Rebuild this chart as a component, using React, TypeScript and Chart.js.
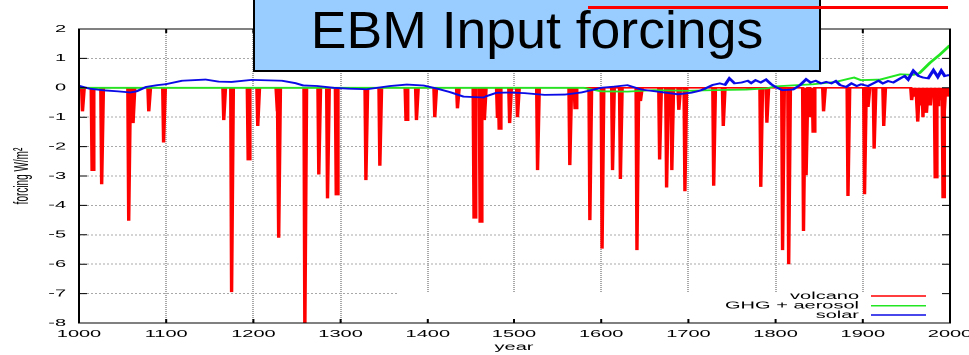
import React, { useEffect, useRef } from "react";
import { Chart, registerables } from "chart.js";

Chart.register(...registerables);

// ---------------- data ----------------
const xTicks = [1000, 1100, 1200, 1300, 1400, 1500, 1600, 1700, 1800, 1900, 2000];
const yTicks = [-8, -7, -6, -5, -4, -3, -2, -1, 0, 1, 2];
const seriesNames = ["volcano", "GHG + aerosol", "solar"];
const chartTitle = "EBM Input forcings";
const xTitle = "year";
const yTitle = "forcing W/m²";

// volcanic events: year and peak forcing (W/m2)
const volcanoYears = [
  1004, 1015, 1026, 1057, 1062, 1080, 1097, 1166, 1175, 1194, 1205, 1227, 1229, 1259,
  1275, 1285, 1295, 1329, 1345, 1375, 1387, 1408, 1434, 1453, 1460, 1466, 1481, 1483,
  1495, 1504, 1527, 1564, 1570, 1587, 1601, 1613, 1622, 1641, 1645, 1667, 1675, 1681,
  1689, 1696, 1729, 1740, 1783, 1790, 1808, 1815, 1832, 1835, 1840, 1843, 1855, 1883,
  1902, 1906, 1913, 1924, 1956, 1959, 1963, 1966, 1969, 1971, 1973, 1976, 1978, 1980,
  1983, 1986, 1988, 1990, 1992, 1994, 1996, 1998, 2000,
];
const volcanoPeaks = [
  -0.8, -2.8, -3.28, -4.52, -1.2, -0.8, -1.86, -1.1, -6.95, -2.44, -1.3, -0.8, -5.1, -8.3,
  -2.95, -3.76, -3.63, -3.14, -2.65, -1.1, -1.1, -1.0, -0.7, -4.42, -4.56, -1.1, -1.0, -1.4,
  -1.2, -1.0, -2.8, -2.63, -0.7, -4.5, -5.47, -2.8, -3.1, -5.52, -0.45, -2.44, -3.39, -2.8,
  -0.75, -3.52, -3.33, -1.3, -3.37, -1.19, -5.52, -6.0, -4.87, -2.97, -1.0, -1.5, -0.8, -3.68,
  -3.62, -0.65, -2.07, -1.3, -0.42, -0.3, -1.15, -0.6, -1.0, -0.7, -0.85, -0.42, -0.6, -0.3,
  -3.05, -0.6, -0.3, -0.4, -3.73, -0.8, -0.2, -0.3, -0.1,
];

const ghgYears = [1000, 1580, 1600, 1630, 1660, 1700, 1730, 1766, 1790, 1800, 1843, 1869, 1883, 1890, 1898, 1920, 1943, 1958, 1965, 1977, 1988, 2000];
const ghgValues = [0.0, 0.0, -0.12, -0.13, -0.08, -0.1, -0.08, -0.06, -0.02, 0.05, 0.12, 0.2, 0.3, 0.35, 0.26, 0.28, 0.46, 0.44, 0.5, 0.85, 1.12, 1.45];

const solarYears = [
  1000, 1012, 1030, 1045, 1059, 1066, 1077, 1090, 1099, 1118, 1145, 1160, 1175, 1198, 1233, 1248,
  1257, 1273, 1292, 1310, 1330, 1357, 1376, 1395, 1411, 1426, 1441, 1464, 1480, 1495, 1512, 1535,
  1558, 1577, 1600, 1615, 1630, 1646, 1665, 1688, 1703, 1713, 1719, 1728, 1736, 1742, 1747, 1753,
  1761, 1768, 1772, 1777, 1783, 1789, 1795, 1801, 1808, 1820, 1828, 1835, 1840, 1846, 1852, 1858,
  1864, 1869, 1874, 1881, 1887, 1893, 1898, 1906, 1912, 1918, 1923, 1929, 1935, 1943, 1948, 1952,
  1958, 1964, 1969, 1975, 1981, 1986, 1990, 1994, 1998, 2000,
];
const solarValues = [
  0.07, -0.03, -0.09, -0.12, -0.16, -0.12, 0.03, 0.09, 0.12, 0.24, 0.28, 0.21, 0.2, 0.27, 0.24, 0.16,
  0.08, 0.06, 0.0, -0.03, -0.05, 0.06, 0.11, 0.08, -0.03, -0.15, -0.3, -0.33, -0.17, -0.16, -0.18, -0.24,
  -0.23, -0.16, 0.0, 0.04, 0.09, -0.06, -0.13, -0.22, -0.17, -0.1, -0.03, 0.1, 0.15, 0.1, 0.32, 0.15,
  0.18, 0.24, 0.16, 0.26, 0.18, 0.28, 0.12, 0.01, -0.08, -0.06, 0.09, 0.29, 0.18, 0.24, 0.15, 0.2,
  0.15, 0.23, 0.09, 0.03, 0.15, 0.06, 0.12, 0.06, 0.15, 0.24, 0.15, 0.23, 0.18, 0.32, 0.4, 0.28,
  0.58, 0.4, 0.35, 0.32, 0.6, 0.37, 0.58, 0.4, 0.43, 0.42,
];

// ---------------- build point lists ----------------
function volcanoPoints() {
  const pts: { x: number; y: number }[] = [{ x: 1000, y: 0 }];
  for (let i = 0; i < volcanoYears.length; i++) {
    const yr = volcanoYears[i];
    const last = pts[pts.length - 1].x;
    if (yr - 1 > last) pts.push({ x: yr - 1, y: 0 });
    pts.push({ x: yr, y: volcanoPeaks[i] });
    const next = i + 1 < volcanoYears.length ? volcanoYears[i + 1] : 9999;
    if (yr + 2 < next && yr + 2 <= 2000) pts.push({ x: yr + 2, y: 0 });
  }
  return pts;
}
const zip = (xs: number[], ys: number[]) => xs.map((x, i) => ({ x, y: ys[i] }));

const COLORS = { volcano: "#ff0000", ghg: "#22e622", solar: "#0a0ae6" };
const FONT = '"Liberation Sans", Arial, Helvetica, sans-serif';

const W = 485;
const H = 355;
const SX = 969 / W;

export default function App() {
  const ref = useRef<HTMLCanvasElement>(null);

  useEffect(() => {
    if (!ref.current) return;
    Chart.defaults.font.family = FONT;
    Chart.defaults.color = "#000";

    const framePlugin = {
      id: "gnuFrame",
      beforeDatasetsDraw(chart: any) {
        const { ctx, chartArea: a, scales } = chart;
        const x0 = scales.x.getPixelForValue(1366);
        const y0 = scales.y.getPixelForValue(-6.97);
        ctx.save();
        ctx.fillStyle = "#ffffff";
        ctx.fillRect(x0, y0, a.right - x0, a.bottom - y0);
        ctx.restore();
      },
      afterDatasetsDraw(chart: any) {
        const { ctx, chartArea: a, scales } = chart;
        ctx.save();
        ctx.strokeStyle = "#000";
        ctx.lineWidth = 1;
        ctx.strokeRect(a.left, a.top, a.right - a.left, a.bottom - a.top);
        ctx.beginPath();
        for (const t of scales.x.ticks) {
          const px = scales.x.getPixelForValue(t.value);
          ctx.moveTo(px, a.bottom);
          ctx.lineTo(px, a.bottom - 4);
          ctx.moveTo(px, a.top);
          ctx.lineTo(px, a.top + 4);
        }
        for (const t of scales.y.ticks) {
          const py = scales.y.getPixelForValue(t.value);
          ctx.moveTo(a.left, py);
          ctx.lineTo(a.left + 4, py);
          ctx.moveTo(a.right, py);
          ctx.lineTo(a.right - 4, py);
        }
        ctx.stroke();

        // key
        const rows = [
          { name: seriesNames[0], color: COLORS.volcano },
          { name: seriesNames[1], color: COLORS.ghg },
          { name: seriesNames[2], color: COLORS.solar },
        ];
        const textRight = a.right - 45.5;
        const l0 = a.right - 39.5;
        const l1 = a.right - 12;
        const rowY = [a.bottom - 27, a.bottom - 17.3, a.bottom - 8];
        ctx.font = `10px ${FONT}`;
        ctx.textAlign = "right";
        ctx.textBaseline = "middle";
        rows.forEach((r, i) => {
          ctx.fillStyle = "#000";
          ctx.fillText(r.name, textRight, rowY[i]);
          ctx.strokeStyle = r.color;
          ctx.lineWidth = 1.5;
          ctx.beginPath();
          ctx.moveTo(l0, rowY[i]);
          ctx.lineTo(l1, rowY[i]);
          ctx.stroke();
        });
        ctx.restore();
      },
    };

    const chart = new Chart(ref.current, {
      type: "line",
      data: {
        datasets: [
          {
            label: seriesNames[2],
            data: zip(solarYears, solarValues),
            borderColor: COLORS.solar,
            borderWidth: 1.8,
            pointRadius: 0,
            order: 1,
          },
          {
            label: seriesNames[1],
            data: zip(ghgYears, ghgValues),
            borderColor: COLORS.ghg,
            borderWidth: 1.8,
            pointRadius: 0,
            order: 2,
          },
          {
            label: seriesNames[0],
            data: volcanoPoints(),
            borderColor: COLORS.volcano,
            borderWidth: 1.7,
            pointRadius: 0,
            order: 3,
          },
        ],
      } as any,
      options: {
        animation: false,
        responsive: true,
        maintainAspectRatio: false,
        devicePixelRatio: 2,
        layout: { padding: { left: 0, top: 29, right: 9.5, bottom: 0 } },
        elements: { line: { tension: 0 } },
        plugins: { legend: { display: false }, tooltip: { enabled: false } },
        scales: {
          x: {
            type: "linear",
            min: 1000,
            max: 2000,
            afterBuildTicks: (s: any) => {
              s.ticks = xTicks.map((v) => ({ value: v }));
            },
            afterFit: (s: any) => {
              s.height = 32;
              s.paddingLeft = 0;
              s.paddingRight = 0;
            },
            ticks: {
              autoSkip: false,
              maxRotation: 0,
              padding: 5,
              color: "#000",
              font: { size: 10 },
              callback: (v: any) => String(v),
            },
            grid: { color: "#a8a8a8", lineWidth: 1, drawTicks: false },
            border: { display: false, dash: [1, 1] },
            title: {
              display: true,
              text: xTitle,
              color: "#000",
              font: { size: 10 },
              padding: { top: 0, bottom: 2 },
            },
          },
          y: {
            type: "linear",
            min: -8,
            max: 2,
            afterBuildTicks: (s: any) => {
              s.ticks = yTicks.map((v) => ({ value: v }));
            },
            afterFit: (s: any) => {
              s.width = 39.5;
              s.paddingTop = 0;
              s.paddingBottom = 0;
            },
            ticks: {
              autoSkip: false,
              padding: 6.5,
              color: "#000",
              font: { size: 10 },
              callback: (v: any) => String(v),
            },
            grid: { color: "#a8a8a8", lineWidth: 1, drawTicks: false },
            border: { display: false, dash: [1, 1] },
            title: {
              display: true,
              text: yTitle,
              color: "#000",
              font: { size: 10 },
              padding: { top: 5, bottom: 0 },
            },
          },
        },
      } as any,
      plugins: [framePlugin],
    });
    return () => chart.destroy();
  }, []);

  return (
    <>
      <div
        style={{
          position: "fixed",
          left: 0,
          top: 0,
          width: W,
          height: H,
          transform: `scaleX(${SX})`,
          transformOrigin: "0 0",
          background: "#fff",
        }}
      >
        <canvas ref={ref} />
      </div>
      <div
        style={{
          position: "fixed",
          left: 253,
          top: -4,
          width: 568,
          height: 76,
          boxSizing: "border-box",
          background: "#99ccff",
          border: "2px solid #000",
        }}
      />
      <div
        style={{
          position: "fixed",
          left: 253,
          top: 5,
          width: 568,
          textAlign: "center",
          fontFamily: FONT,
          fontSize: 51,
          lineHeight: "51px",
          color: "#000",
          whiteSpace: "nowrap",
          transform: "scaleX(1.05)",
        }}
      >
        {chartTitle}
      </div>
      <div
        style={{
          position: "fixed",
          left: 588,
          top: 5.5,
          width: 360,
          height: 3.5,
          background: "#ff0000",
        }}
      />
    </>
  );
}
